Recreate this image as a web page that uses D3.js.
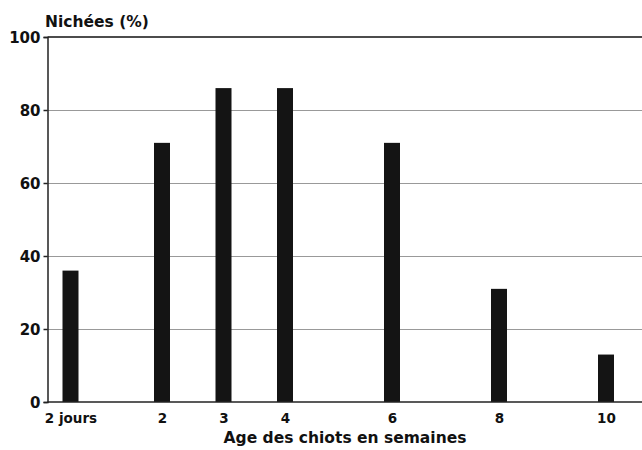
<!DOCTYPE html>
<html><head><meta charset="utf-8">
<script src="https://cdn.jsdelivr.net/npm/d3@7"></script>
<style>body{margin:0;background:#fff}svg{display:block}text{font-family:"DejaVu Sans",sans-serif;font-weight:bold;fill:#111}</style>
</head><body><svg id="c" width="642" height="450"></svg>
<script>
const categories = ["2 jours", "2", "3", "4", "6", "8", "10"];
const ageWeeks = [0.29, 2, 3, 4, 6, 8, 10];
const values = [36, 71, 86, 86, 71, 31, 13];
const yTicks = [0, 20, 40, 60, 80, 100];

const svg = d3.select("#c");
const m = {l: 47.5, t: 37, b: 402};
const x = d3.scaleLinear().domain([0.29, 2, 4, 10]).range([70.5, 162, 285, 606]);
const y = d3.scaleLinear().domain([0, 100]).range([m.b, m.t]);
const crisp = v => Math.round(v) + 0.5;
const barW = 16;

svg.append("g").selectAll("line").data(yTicks.filter(d => d > 0 && d < 100)).join("line")
  .attr("x1", m.l).attr("x2", 642).attr("y1", d => crisp(y(d))).attr("y2", d => crisp(y(d)))
  .attr("stroke", "#333").attr("stroke-width", 1).attr("stroke-dasharray", "1,1");

svg.append("line").attr("x1", m.l).attr("x2", 642).attr("y1", y(100)).attr("y2", y(100))
  .attr("stroke", "#111").attr("stroke-width", 1.5);

svg.append("g").selectAll("rect").data(values).join("rect")
  .attr("x", (d, i) => x(ageWeeks[i]) - barW / 2).attr("width", barW)
  .attr("y", d => y(d)).attr("height", d => y(0) - y(d)).attr("fill", "#141414");

const yAxis = d3.axisLeft(y).tickValues(yTicks).tickSize(4).tickPadding(3);
const gy = svg.append("g").attr("transform", `translate(${m.l},0)`).call(yAxis);
gy.select(".domain").attr("stroke", "#222").attr("stroke-width", 1.5);
gy.selectAll(".tick line").attr("stroke", "#222").attr("stroke-width", 1.5);
gy.selectAll(".tick text").style("font-size", "15px").attr("dy", "0.36em");

const xAxis = d3.axisBottom(x).tickValues(ageWeeks).tickFormat((d, i) => categories[i]).tickSize(0).tickPadding(11);
const gx = svg.append("g").attr("transform", `translate(0,${m.b})`).call(xAxis);
gx.select(".domain").remove();
gx.selectAll(".tick text").style("font-size", "13.5px");
svg.append("line").attr("x1", m.l).attr("x2", 642).attr("y1", m.b).attr("y2", m.b)
  .attr("stroke", "#222").attr("stroke-width", 1.5);

svg.append("text").attr("x", 45).attr("y", 27).style("font-size", "15.5px").text("Nichées (%)");
svg.append("text").attr("x", 345).attr("y", 443).attr("text-anchor", "middle").style("font-size", "15.5px").text("Age des chiots en semaines");
</script></body></html>
